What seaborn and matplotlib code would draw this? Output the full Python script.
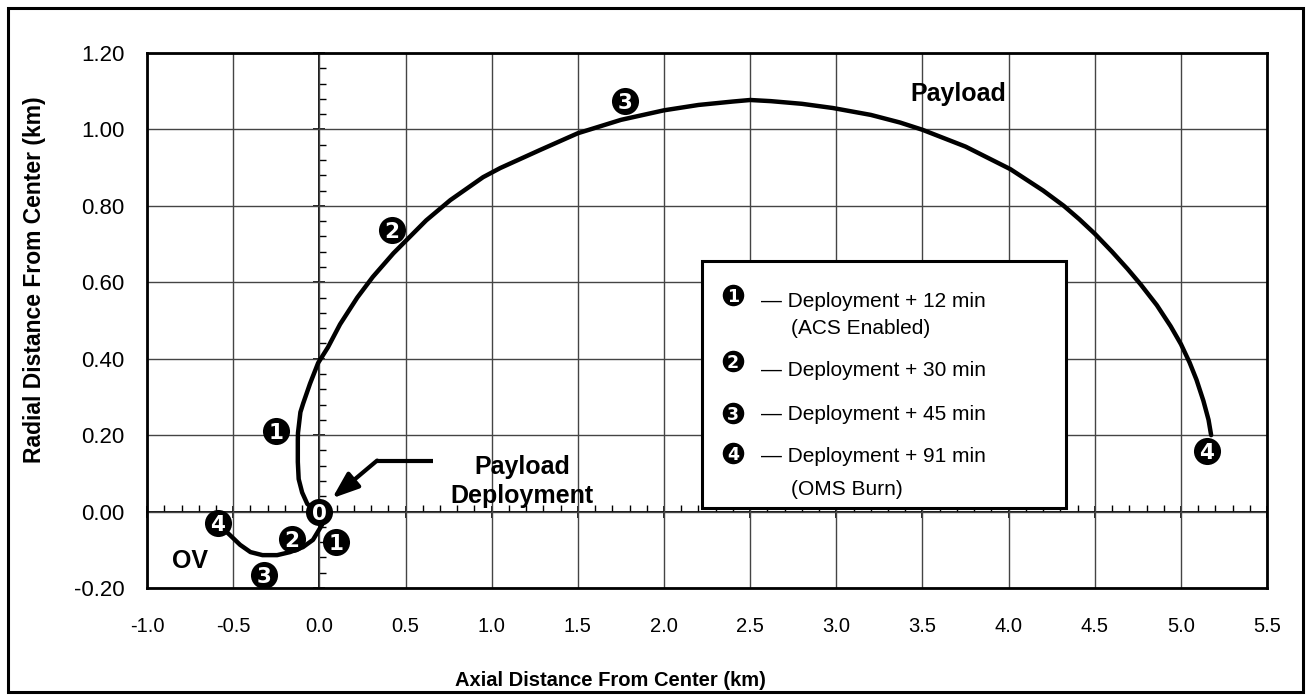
import numpy as np
import matplotlib
matplotlib.use("Agg")
import matplotlib.pyplot as plt
from matplotlib.patches import Rectangle
from matplotlib.ticker import MultipleLocator, FormatStrFormatter
import seaborn as sns

# ---- Data (km) ----
payload_x = [0.00, -0.04, -0.07, -0.10, -0.12, -0.125, -0.125, -0.124, -0.11, -0.094,
             -0.054, -0.007, 0.05, 0.12, 0.22, 0.31, 0.43, 0.62, 0.76, 0.95, 1.05,
             1.28, 1.50, 1.75, 2.00, 2.20, 2.40, 2.50, 2.62, 2.80, 2.98, 3.20, 3.37, 3.50, 3.75,
             4.01, 4.20, 4.32, 4.41, 4.50, 4.60, 4.69, 4.765, 4.86, 4.94, 5.00, 5.05, 5.09,
             5.13, 5.16, 5.175]
payload_y = [0.00, 0.01, 0.02, 0.05, 0.085, 0.13, 0.187, 0.206, 0.26, 0.283,
             0.335, 0.389, 0.43, 0.49, 0.56, 0.614, 0.676, 0.762, 0.815, 0.875, 0.899,
             0.946, 0.99, 1.025, 1.05, 1.064, 1.073, 1.077, 1.074, 1.067, 1.056, 1.038, 1.018, 0.999, 0.955,
             0.896, 0.84, 0.80, 0.765, 0.727, 0.68, 0.635, 0.595, 0.54, 0.485, 0.438, 0.39, 0.345,
             0.29, 0.24, 0.20]

ov_x = [0.00, 0.015, -0.037, -0.095, -0.17, -0.245, -0.33, -0.40, -0.46, -0.52, -0.57]
ov_y = [0.00, -0.035, -0.074, -0.093, -0.106, -0.114, -0.114, -0.106, -0.087, -0.061, -0.04]

# numbered event markers
payload_mark_x = [-0.25, 0.42, 1.775, 5.15]
payload_mark_y = [0.21, 0.737, 1.075, 0.158]
payload_mark_lab = ["1", "2", "3", "4"]
ov_mark_x = [0.0, 0.097, -0.16, -0.32, -0.59]
ov_mark_y = [0.0, -0.08, -0.072, -0.166, -0.03]
ov_mark_lab = ["0", "1", "2", "3", "4"]

# legend entries
legend_num = ["1", "2", "3", "4"]
legend_text = ["\u2014 Deployment + 12 min", "\u2014 Deployment + 30 min",
               "\u2014 Deployment + 45 min", "\u2014 Deployment + 91 min"]
legend_note = ["(ACS Enabled)", "", "", "(OMS Burn)"]

x_ticks = np.arange(-1.0, 5.51, 0.5)
y_ticks = np.arange(-0.2, 1.21, 0.2)

# ---- Style ----
sns.set_style("white")
plt.rcParams["font.family"] = ["Liberation Sans", "DejaVu Sans"]
plt.rcParams["text.color"] = "black"
plt.rcParams["axes.labelcolor"] = "black"
plt.rcParams["xtick.color"] = "black"
plt.rcParams["ytick.color"] = "black"

fig = plt.figure(figsize=(13.07, 7.0), dpi=100)
ax = fig.add_axes([0.1125, 0.16, 0.857, 0.7643])
XMIN, XMAX, YMIN, YMAX = -1.0, 5.5, -0.2, 1.2
ax.set_xlim(XMIN, XMAX)
ax.set_ylim(YMIN, YMAX)

# grid + frame
ax.set_xticks(x_ticks)
ax.set_yticks(y_ticks)
ax.xaxis.set_major_formatter(FormatStrFormatter("%.1f"))
ax.yaxis.set_major_formatter(FormatStrFormatter("%.2f"))
ax.grid(True, color="#444444", lw=1.0)
ax.set_axisbelow(True)
for s in ax.spines.values():
    s.set_visible(True)
    s.set_color("black")
    s.set_linewidth(2.0)
ax.tick_params(axis="x", length=0, pad=21, labelsize=14.5, colors="black")
ax.tick_params(axis="y", length=0, pad=16, labelsize=16, colors="black")

# zero axes with small ticks, Excel style
sx = ax.secondary_xaxis((0 - YMIN) / (YMAX - YMIN))
sx.xaxis.set_major_locator(MultipleLocator(0.5))
sx.xaxis.set_minor_locator(MultipleLocator(0.1))
sx.tick_params(which="major", direction="inout", length=9, width=1.2, labelbottom=False, labeltop=False)
sx.tick_params(which="minor", direction="in", length=5, width=1.0)
for s in sx.spines.values():
    s.set_linewidth(1.3)
    s.set_color("black")

sy = ax.secondary_yaxis((0 - XMIN) / (XMAX - XMIN))
sy.yaxis.set_major_locator(MultipleLocator(0.2))
sy.yaxis.set_minor_locator(MultipleLocator(0.04))
sy.tick_params(which="major", direction="inout", length=9, width=1.2, labelleft=False, labelright=False)
sy.tick_params(which="minor", direction="in", length=5, width=1.0)
for s in sy.spines.values():
    s.set_linewidth(1.3)
    s.set_color("black")

# ---- Trajectories ----
sns.lineplot(x=payload_x, y=payload_y, sort=False, estimator=None, color="black", lw=3.2, ax=ax, zorder=4)
sns.lineplot(x=ov_x, y=ov_y, sort=False, estimator=None, color="black", lw=3.2, ax=ax, zorder=4)

# ---- Numbered markers ----
sns.scatterplot(x=payload_mark_x + ov_mark_x, y=payload_mark_y + ov_mark_y, s=380, color="black",
                edgecolor="black", linewidth=0, ax=ax, zorder=5)
for x, y, lab in zip(payload_mark_x + ov_mark_x, payload_mark_y + ov_mark_y, payload_mark_lab + ov_mark_lab):
    ax.text(x, y, lab, color="white", fontsize=15.5, fontweight="bold", family="DejaVu Sans",
            ha="center", va="center_baseline", zorder=6)

# ---- Labels on the plot ----
ax.text(3.707, 1.093, "Payload", fontsize=18, fontweight="bold", ha="center", va="center")
ax.text(1.176, 0.078, "Payload\nDeployment", fontsize=18, fontweight="bold", ha="center", va="center",
        linespacing=1.25, zorder=4)
ax.text(-0.75, -0.13, "OV", fontsize=18, fontweight="bold", ha="center", va="center")

# deployment arrow
ax.plot([0.662, 0.335], [0.1335, 0.1335], color="black", lw=3, solid_capstyle="butt", zorder=4)
ax.annotate("", xy=(0.075, 0.035), xytext=(0.335, 0.1335),
            arrowprops=dict(arrowstyle="-|>,head_length=1.6,head_width=0.6", color="black", lw=3,
                            shrinkA=0, shrinkB=0), zorder=4)

# ---- Legend box ----
ax.add_patch(Rectangle((2.22, 0.009), 4.333 - 2.22, 0.656 - 0.009, facecolor="white",
                       edgecolor="black", lw=2.2, zorder=3))
leg_mark_y = [0.567, 0.395, 0.258, 0.153]
leg_text_y = [0.55, 0.368, 0.255, 0.143]
leg_note_y = [0.48, 0, 0, 0.057]
sns.scatterplot(x=[2.40] * len(legend_num), y=leg_mark_y, s=240, color="black", linewidth=0,
                ax=ax, zorder=5)
for i, num in enumerate(legend_num):
    ax.text(2.40, leg_mark_y[i], num, color="white", fontsize=12.5, fontweight="bold", family="DejaVu Sans",
            ha="center", va="center_baseline", zorder=6)
    ax.text(2.56, leg_text_y[i], legend_text[i], fontsize=15, ha="left", va="center", zorder=6)
    if legend_note[i]:
        ax.text(2.735, leg_note_y[i], legend_note[i], fontsize=15, ha="left", va="center", zorder=6)

# ---- Axis titles ----
ax.set_xlabel("Axial Distance From Center (km)", fontsize=14.5, fontweight="bold")
ax.set_ylabel("Radial Distance From Center (km)", fontsize=16.5, fontweight="bold")
ax.xaxis.set_label_coords(0.414, -0.155)
ax.yaxis.set_label_coords(-0.09, 0.576)

# outer frame
fig.patches.append(Rectangle((8 / 1307, 8 / 700), 1295 / 1307, 684 / 700, transform=fig.transFigure,
                             fill=False, edgecolor="black", lw=2.2))

fig.savefig("out.png", dpi=100)
